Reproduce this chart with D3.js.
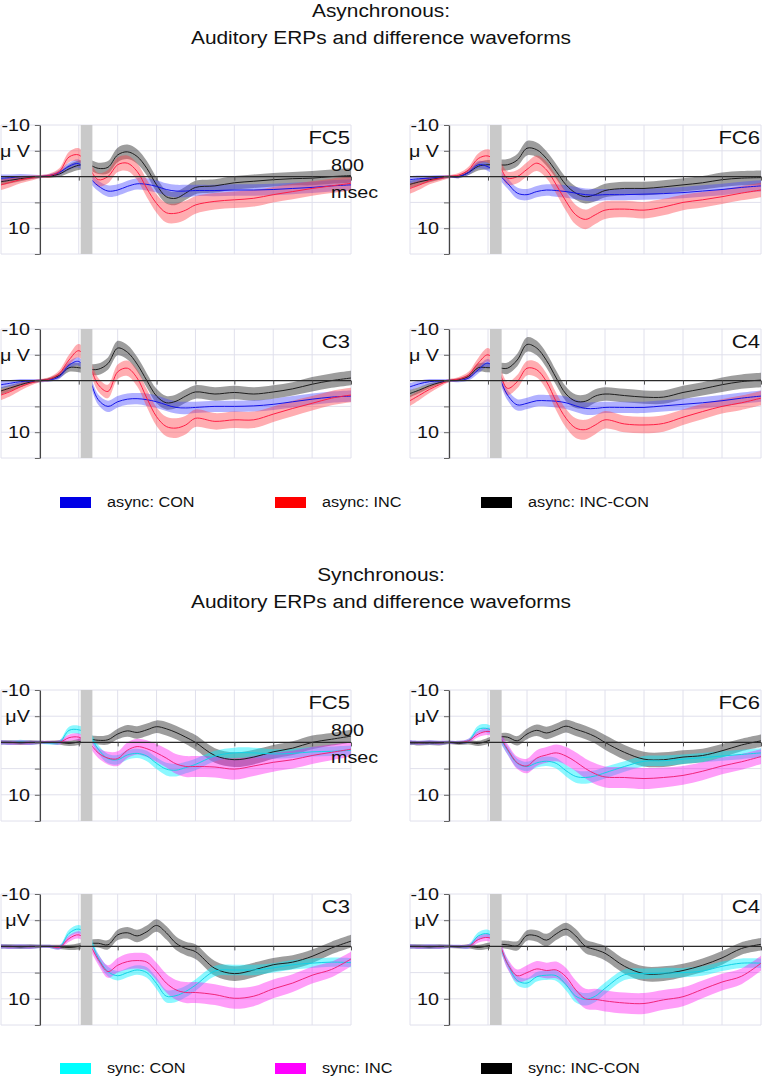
<!DOCTYPE html>
<meta charset="utf-8">
<html>
<style>
  body { margin: 0; background: #fff; }
  .chart text { font-family: "Liberation Sans", Arial, sans-serif; fill: #111; }
</style>
<script src="https://cdnjs.cloudflare.com/ajax/libs/d3/7.8.5/d3.min.js"></script>
<body>
  <svg class="chart"></svg>
</body>
<script>
  // time points (ms)
  var times = [-100, -75, -50, -25, 0, 25, 50, 75, 100, 125, 150, 175, 200, 225, 250, 275, 300, 325, 350, 375, 400, 450, 500, 550, 600, 650, 700, 750, 800];

  // asynchronous, microvolts
  var asyncFC5Con = [0.3, 0.2, 0, 0, 0, -0.2, -0.8, -2.0, -2.5, 0, 1.8, 2.8, 2.6, 1.9, 1.4, 1.5, 1.9, 2.5, 2.8, 2.8, 2.7, 2.7, 2.6, 2.6, 2.5, 2.3, 2.1, 1.8, 1.6];
  var asyncFC5Inc = [1.6, 1.1, 0.6, 0.3, 0, -0.2, -1, -3.8, -4.2, -1.9, 0.6, 0, -2.3, -2.6, -1, 2.3, 5.2, 7, 7.1, 6.5, 5.5, 4.8, 4.5, 4.2, 3.5, 2.9, 2.3, 1.8, 1.3];
  var asyncFC5Diff = [1, 0.7, 0.4, 0.2, 0, -0.1, -0.5, -1.5, -2.2, -2.3, -1.6, -1.8, -4.2, -4.8, -3.9, -1.6, 1.6, 3.9, 4.2, 3.2, 2.1, 1.8, 1.2, 0.9, 0.6, 0.4, 0.3, 0, -0.2];

  var asyncFC6Con = [0.6, 0.4, 0.3, 0.1, 0, 0, -0.8, -2.3, -1.9, -0.6, 1.3, 3.2, 3.5, 2.9, 2.6, 2.7, 2.9, 3.2, 3.5, 3.6, 3.5, 3.5, 3.4, 3.3, 3.1, 2.8, 2.5, 2.1, 1.8];
  var asyncFC6Inc = [2.3, 1.6, 0.8, 0.4, 0, -0.3, -1.3, -3.5, -4, -2.6, 0.3, 0, -1.4, -2.6, -1.3, 1.6, 4.8, 7.4, 8.3, 7.4, 6.5, 6.3, 6.5, 5.9, 5, 4.5, 3.9, 3.2, 2.6];
  var asyncFC6Diff = [1.5, 1, 0.6, 0.3, 0, 0, -0.8, -2, -2.3, -2.3, -2.3, -3.2, -5.5, -5.2, -3.5, -1, 1.6, 3.2, 3.9, 3.5, 2.7, 2.3, 2.3, 2, 1.6, 1.2, 0.6, 0.3, 0.2];

  var asyncC3Con = [0.8, 0.5, 0.2, 0.1, 0, -0.1, -0.8, -3, -3.7, -0.8, 3.7, 5, 4.1, 3.6, 3.5, 3.7, 4.1, 4.7, 5.2, 5.3, 5.2, 5, 5, 4.9, 4.6, 4.1, 3.6, 3.2, 3];
  var asyncC3Inc = [2.8, 2.1, 1.2, 0.5, 0, -0.3, -1.4, -4, -5.8, -3.4, 0.8, 2.1, -1.7, -2.4, -0.5, 3.4, 7, 8.9, 9.2, 8.6, 7.3, 7.9, 7.6, 7.6, 6.5, 5.4, 4.4, 3.4, 2.8];
  var asyncC3Diff = [2, 1.4, 0.8, 0.3, 0, -0.3, -1, -2.5, -2.5, -2.2, -2.2, -3.3, -6.3, -5.5, -3.2, 0, 3, 4.3, 4, 3, 2.2, 2.6, 2.3, 2.6, 2.2, 1.6, 0.7, 0, -0.5];

  var asyncC4Con = [1.2, 0.6, 0.2, 0.1, 0, 0, -0.5, -2.1, -3.4, -1.1, 2.8, 4.7, 4.4, 3.9, 3.9, 4, 4.3, 4.9, 5.4, 5.4, 5.2, 5.2, 5.2, 4.9, 4.6, 4.3, 3.9, 3.4, 3];
  var asyncC4Inc = [3.9, 2.8, 1.7, 0.8, 0, -0.3, -1.1, -3.4, -5, -2.4, 1.5, 0.2, -2.4, -2.1, 0.2, 4.1, 7.3, 9.2, 9.5, 8.6, 7.6, 8.4, 8.6, 8.3, 7.1, 6, 5, 4.3, 3.4];
  var asyncC4Diff = [2.5, 1.8, 1, 0.4, 0, -0.2, -0.8, -2.5, -2.5, -2.5, -2.4, -4, -7, -6.3, -3.9, -0.5, 2.6, 4, 4, 3, 2.6, 2.9, 3.2, 3.2, 2.3, 1.6, 0.8, 0.2, -0.1];

  // synchronous, microvolts
  var syncFC5Con = [0, 0.1, -0.1, 0.1, 0, 0.1, 0, -2.3, -2.4, -1.5, 1.3, 3.1, 3.3, 2.4, 2.1, 2.6, 4, 5.1, 5.3, 4.8, 4.2, 2.6, 2, 2, 2.2, 2.1, 1.8, 1.7, 1.5];
  var syncFC5Inc = [0, 0.1, 0, 0.1, 0, 0, 0, -0.9, -1, 0, 2, 3, 3.1, 1.5, 0.8, 1.2, 2, 3, 4.1, 4.6, 4.6, 4.7, 5.1, 4.5, 3.8, 3.3, 2.5, 1.9, 1.3];
  var syncFC5Diff = [0, 0, 0.1, 0, 0, 0, 0, 0.2, -0.1, -0.6, -0.4, -0.5, -1.6, -2.2, -1.9, -2.4, -3, -2.6, -1.9, -1, 0, 2.5, 3.3, 2.8, 1.8, 1.1, 0, -0.6, -1.2];

  var syncFC6Con = [0, 0.1, 0, 0.1, 0, 0, -0.3, -2.5, -2.6, -1.3, 1.5, 4, 4.6, 3.9, 3.6, 4, 5.4, 6.5, 6.7, 6.4, 5.8, 4.6, 3.6, 3.5, 3.2, 2.9, 2.6, 2.3, 2];
  var syncFC6Inc = [0, 0.1, 0, 0.1, 0, 0, -0.3, -1.6, -2.1, -1.4, 1.3, 3.9, 4.5, 3, 2.4, 2, 2.6, 3.7, 5, 6, 6.6, 6.7, 6.9, 6.7, 6.3, 5.5, 4.5, 3.7, 2.7];
  var syncFC6Diff = [0.1, 0.2, 0.1, 0.2, 0, 0.2, 0, 0.2, -0.3, -1, -1, -0.3, -1.6, -2.3, -1.8, -2.4, -3.1, -2.5, -1.9, -1.1, 0, 1.9, 3.2, 3.3, 2.8, 2.5, 1.6, 0.5, -0.3];

  var syncC3Con = [0, 0.1, 0, 0.1, 0, 0, 0.2, -2.5, -3.3, -1.8, 2.2, 4.8, 5.6, 5, 4.5, 5, 7.1, 9.5, 9.4, 8.6, 7.4, 4.7, 4.5, 4.5, 4.1, 3.5, 3.2, 3, 3.1];
  var syncC3Inc = [0, 0.1, 0, 0.1, 0, 0, 0.2, -1.5, -2.2, -0.6, 2.5, 4.8, 3.6, 2.9, 2.7, 3, 4.8, 7, 8.3, 8.8, 8.8, 9.2, 9.9, 9.5, 8.1, 7, 5.5, 4.4, 2.4];
  var syncC3Diff = [0, 0, 0.1, 0, 0, 0, 0.1, 0.2, 0, -0.5, -0.6, -0.3, -2.2, -2.6, -2, -2.8, -4, -2.6, -0.6, 0.4, 1, 4.2, 5.2, 4.5, 3.5, 3, 1.9, 0.3, -1];

  var syncC4Con = [0, 0.1, 0, 0.1, 0, 0, 0, -2, -2.4, -0.6, 3.3, 6.5, 7, 5.8, 5.5, 5.6, 7.3, 9.5, 10.1, 9.5, 8, 5.4, 5.2, 5.1, 5, 4.7, 3.8, 3.2, 3.2];
  var syncC4Inc = [0, 0.1, 0, 0.1, 0, 0, 0, -1.3, -1.7, -0.8, 3.3, 5.6, 5, 4.3, 4.6, 4.5, 5.8, 8.3, 10, 10.1, 10.4, 10.8, 10.9, 10.2, 9.6, 8.2, 6.8, 5.7, 3.2];
  var syncC4Diff = [0, 0, 0.1, 0, 0, 0.1, 0, 0.2, -0.1, -0.4, -0.3, -0.1, -2.1, -2, -1.2, -2.4, -3.3, -2, 0, 0.6, 1.3, 3.8, 5.2, 5.2, 4.6, 3.6, 2.2, 0.4, -0.4];

  // half widths of the shaded bands (standard error)
  var asyncConSE = [0.7, 0.6, 0.5, 0.4, 0.3, 0.3, 0.5, 0.7, 0.8, 0.9, 1, 1.1, 1.1, 1.1, 1.1, 1.2, 1.2, 1.2, 1.2, 1.2, 1.1, 1.1, 1.1, 1.1, 1.1, 1.1, 1.1, 1.1, 1.1];
  var asyncIncSE = [1, 0.9, 0.7, 0.5, 0.3, 0.4, 0.6, 1, 1.3, 1.3, 1.3, 1.3, 1.4, 1.5, 1.6, 1.7, 1.8, 1.9, 1.9, 1.8, 1.7, 1.6, 1.6, 1.6, 1.5, 1.5, 1.4, 1.4, 1.4];
  var asyncDiffSE = [0.7, 0.6, 0.5, 0.3, 0.2, 0.3, 0.5, 0.8, 0.9, 1, 1.1, 1.2, 1.4, 1.4, 1.4, 1.4, 1.4, 1.3, 1.3, 1.3, 1.3, 1.3, 1.3, 1.3, 1.3, 1.3, 1.4, 1.4, 1.4];
  var syncConSE = [0.4, 0.4, 0.4, 0.4, 0.3, 0.3, 0.4, 0.7, 0.8, 0.8, 0.8, 0.9, 0.9, 0.9, 0.9, 1, 1.1, 1.2, 1.2, 1.1, 1.1, 1, 1, 1, 0.9, 0.9, 0.9, 0.9, 0.9];
  var syncIncSE = [0.4, 0.4, 0.4, 0.4, 0.3, 0.3, 0.4, 0.6, 0.7, 0.8, 1, 1.2, 1.4, 1.5, 1.5, 1.6, 1.7, 1.8, 1.9, 2, 2, 2, 2, 1.9, 1.8, 1.7, 1.6, 1.5, 1.4];
  var syncDiffSE = [0.4, 0.4, 0.4, 0.4, 0.3, 0.3, 0.4, 0.5, 0.6, 0.7, 0.8, 0.9, 1, 1.1, 1.2, 1.2, 1.2, 1.3, 1.3, 1.3, 1.4, 1.4, 1.4, 1.4, 1.3, 1.3, 1.3, 1.2, 1.2];

  var yTicks = [-10, -5, 0, 5, 10, 15];
  var xTicks = [-100, 0, 100, 200, 300, 400, 500, 600, 700, 800];
  var asyncLegend = ["async: CON", "async: INC", "async: INC-CON"];
  var syncLegend = ["sync: CON", "sync: INC", "sync: INC-CON"];

  var width = 762;
  var height = 1078;
  var SX = 1.16; // the figure is a little stretched sideways

  var chart = d3.select(".chart")
    .attr("width", width)
    .attr("height", height);

  var cols = [[1, 351], [410, 761]];
  var groups = {
    async: { tops: [125, 329], h: 129, se: [asyncConSE, asyncIncSE, asyncDiffSE],
      line: ["#1414e8", "#ff1f45", "#1e1e1e"],
      fill: ["rgba(70,70,255,0.42)", "rgba(255,60,70,0.42)", "rgba(50,50,50,0.48)"],
      swatch: ["#0000e6", "#ff0000", "#000000"], uv: "μ V" },
    sync: { tops: [690, 894], h: 131, se: [syncConSE, syncIncSE, syncDiffSE],
      line: ["#12d2e6", "#f0247a", "#1e1e1e"],
      fill: ["rgba(0,240,255,0.45)", "rgba(255,0,240,0.38)", "rgba(50,50,50,0.48)"],
      swatch: ["#00ffff", "#ff00ff", "#000000"], uv: "μV" }
  };

  var panels = [
    { g: "async", name: "FC5", col: 0, row: 0, series: [asyncFC5Con, asyncFC5Inc, asyncFC5Diff] },
    { g: "async", name: "FC6", col: 1, row: 0, series: [asyncFC6Con, asyncFC6Inc, asyncFC6Diff] },
    { g: "async", name: "C3", col: 0, row: 1, series: [asyncC3Con, asyncC3Inc, asyncC3Diff] },
    { g: "async", name: "C4", col: 1, row: 1, series: [asyncC4Con, asyncC4Inc, asyncC4Diff] },
    { g: "sync", name: "FC5", col: 0, row: 0, series: [syncFC5Con, syncFC5Inc, syncFC5Diff] },
    { g: "sync", name: "FC6", col: 1, row: 0, series: [syncFC6Con, syncFC6Inc, syncFC6Diff] },
    { g: "sync", name: "C3", col: 0, row: 1, series: [syncC3Con, syncC3Inc, syncC3Diff] },
    { g: "sync", name: "C4", col: 1, row: 1, series: [syncC4Con, syncC4Inc, syncC4Diff] }
  ];

  function label(g, x, y, s, size, anchor) {
    return g.append("text")
      .attr("transform", "translate(" + x + "," + y + ") scale(" + SX + ",1)")
      .attr("text-anchor", anchor || "start")
      .style("font-size", size + "px")
      .text(s);
  }

  panels.forEach(function(p) {
    var cfg = groups[p.g];
    var top = cfg.tops[p.row];
    var x = d3.scaleLinear().domain([-100, 800]).range(cols[p.col]);
    var y = d3.scaleLinear().domain([-10, 15]).range([top, top + cfg.h]);
    var g = chart.append("g");

    // grid
    g.selectAll(".vg").data(xTicks).enter().append("line")
      .attr("x1", x).attr("x2", x).attr("y1", y(-10)).attr("y2", y(15))
      .attr("stroke", "#e0e0ec").attr("stroke-width", 1);
    g.selectAll(".hg").data(yTicks).enter().append("line")
      .attr("x1", x(-100)).attr("x2", x(800)).attr("y1", y).attr("y2", y)
      .attr("stroke", "#e0e0ec").attr("stroke-width", 1);

    // bands, difference first
    [2, 0, 1].forEach(function(k) {
      var vals = p.series[k], se = cfg.se[k];
      var area = d3.area()
        .x(function(d, i) { return x(times[i]); })
        .y0(function(d, i) { return y(d - se[i]); })
        .y1(function(d, i) { return y(d + se[i]); })
        .curve(d3.curveCatmullRom.alpha(0.5));
      g.append("path").datum(vals).attr("d", area).attr("fill", cfg.fill[k]);
    });
    [2, 0, 1].forEach(function(k) {
      var line = d3.line()
        .x(function(d, i) { return x(times[i]); })
        .y(function(d) { return y(d); })
        .curve(d3.curveCatmullRom.alpha(0.5));
      g.append("path").datum(p.series[k]).attr("d", line)
        .attr("fill", "none").attr("stroke", cfg.line[k]).attr("stroke-width", 1);
    });

    // stimulus bar
    g.append("rect")
      .attr("x", x(105)).attr("width", x(135) - x(105))
      .attr("y", y(-10)).attr("height", y(15) - y(-10))
      .attr("fill", "#c9c9c9");

    // zero line with ticks
    g.append("line")
      .attr("x1", x(-100)).attr("x2", x(800)).attr("y1", y(0)).attr("y2", y(0))
      .attr("stroke", "#2a2a2a").attr("stroke-width", 1.2);
    var xa = g.append("g").attr("transform", "translate(0," + y(0) + ")")
      .call(d3.axisBottom(x).tickValues(xTicks.slice(1)).tickSize(4).tickFormat(""));
    xa.select(".domain").remove();
    xa.selectAll("line").attr("stroke", "#555");

    // y axis at time 0
    var ya = g.append("g").attr("transform", "translate(" + x(0) + ",0)")
      .call(d3.axisLeft(y).tickValues(yTicks).tickSize(5).tickSizeOuter(0).tickFormat(""));
    ya.select(".domain").attr("stroke", "#444").attr("stroke-width", 1.3);
    ya.selectAll("line").attr("stroke", "#666");

    var lx = x(0) - 10;
    label(g, lx, y(-10) + 6, "-10", 17, "end");
    label(g, lx, y(-5) + 6, cfg.uv, 17, "end");
    label(g, lx, y(10) + 6, "10", 17, "end");
    label(g, x(800) - 1, top + 19, p.name, 19, "end");
    if (p.col === 0 && p.row === 0) {
      label(g, x(800) - 20, y(0) - 6, "800", 17, "start");
      label(g, x(800) - 20, y(0) + 21, "msec", 17, "start");
    }
  });

  // titles
  label(chart, 381, 17, "Asynchronous:", 18, "middle");
  label(chart, 381, 44, "Auditory ERPs and difference waveforms", 18, "middle");
  label(chart, 381, 581, "Synchronous:", 18, "middle");
  label(chart, 381, 608, "Auditory ERPs and difference waveforms", 18, "middle");

  // legends
  var legX = [60, 275, 481];
  function legend(names, cfg, yTop) {
    names.forEach(function(n, i) {
      chart.append("rect").attr("x", legX[i]).attr("y", yTop)
        .attr("width", 31).attr("height", 11).attr("fill", cfg.swatch[i]);
      label(chart, legX[i] + 47, yTop + 10, n, 14, "start");
    });
  }
  legend(asyncLegend, groups.async, 497);
  legend(syncLegend, groups.sync, 1063);
</script>

</html>
